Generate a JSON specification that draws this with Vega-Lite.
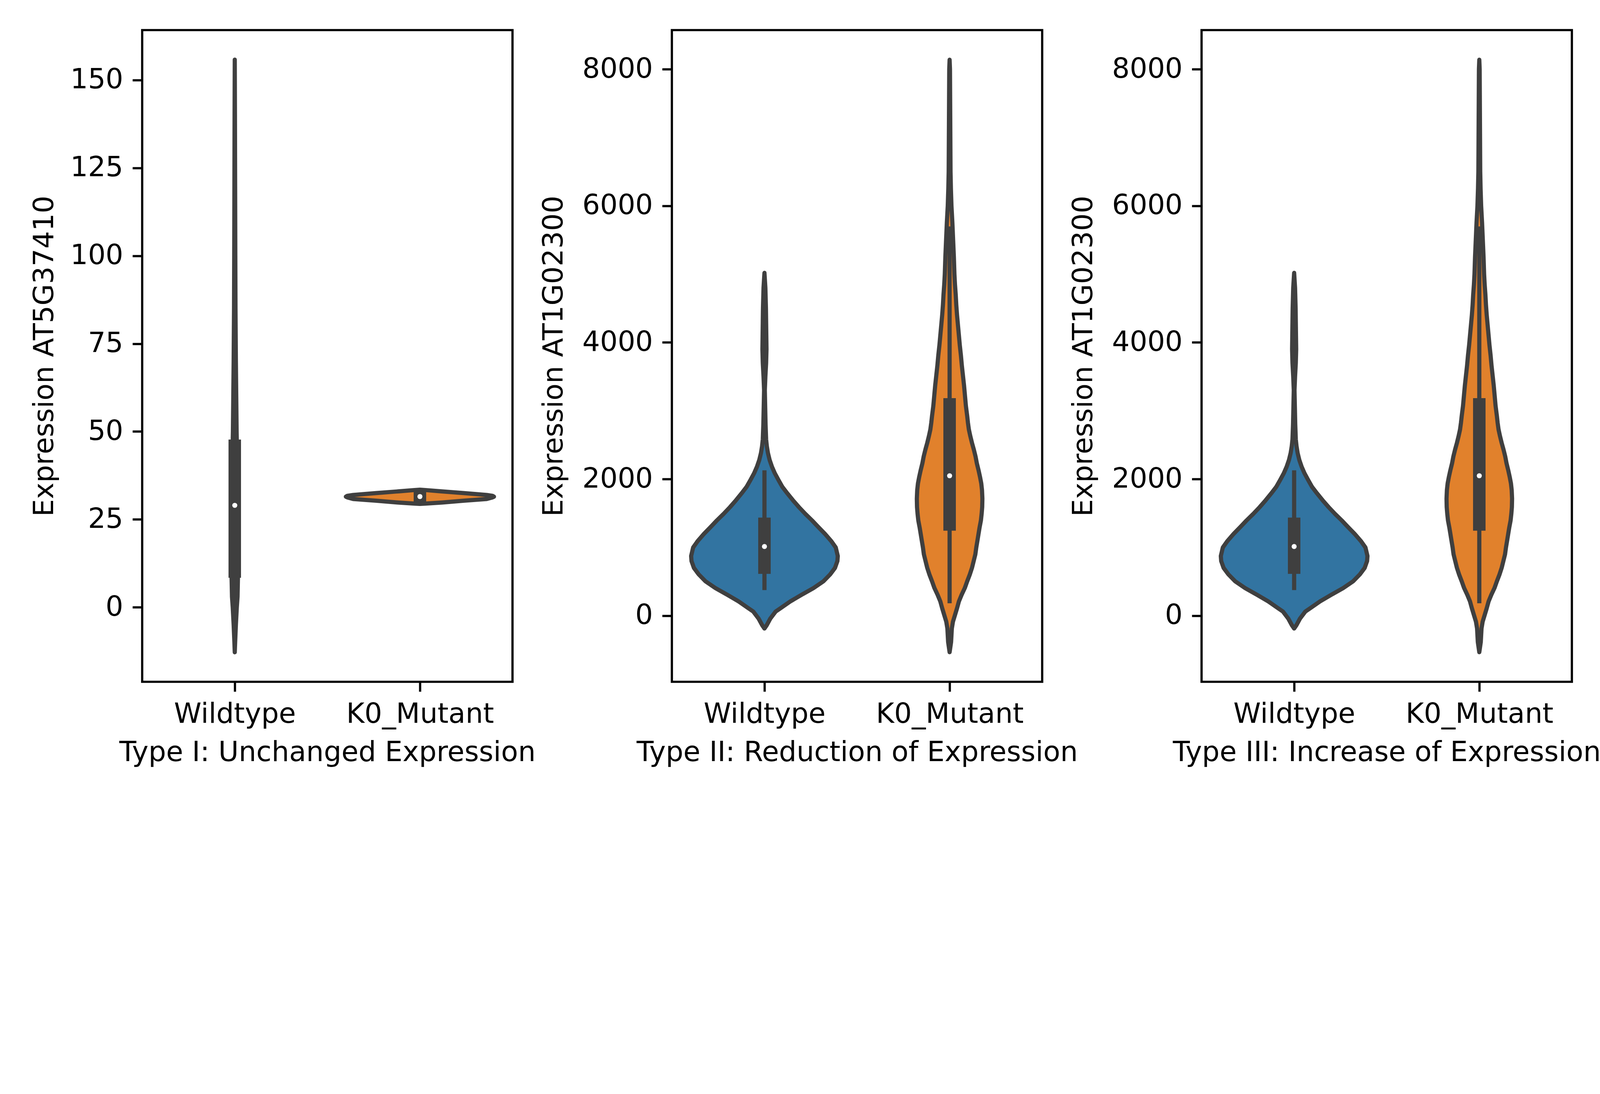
{
  "$schema": "https://vega.github.io/schema/vega-lite/v6.json",
  "description": "Violin plots of expression for three gene types, Wildtype vs K0_Mutant.",
  "background": "white",
  "padding": {"left": 76, "top": 74, "right": 0, "bottom": 0},
  "datasets": {
    "violins": [
      {"gene": "AT5G37410", "group": "Wildtype", "value": -12.8, "density": 0},
      {"gene": "AT5G37410", "group": "Wildtype", "value": -10, "density": 0.002},
      {"gene": "AT5G37410", "group": "Wildtype", "value": -5, "density": 0.006},
      {"gene": "AT5G37410", "group": "Wildtype", "value": 0, "density": 0.011},
      {"gene": "AT5G37410", "group": "Wildtype", "value": 3, "density": 0.015},
      {"gene": "AT5G37410", "group": "Wildtype", "value": 8, "density": 0.017},
      {"gene": "AT5G37410", "group": "Wildtype", "value": 15, "density": 0.019},
      {"gene": "AT5G37410", "group": "Wildtype", "value": 25, "density": 0.019},
      {"gene": "AT5G37410", "group": "Wildtype", "value": 35, "density": 0.016},
      {"gene": "AT5G37410", "group": "Wildtype", "value": 45, "density": 0.012},
      {"gene": "AT5G37410", "group": "Wildtype", "value": 50, "density": 0.010},
      {"gene": "AT5G37410", "group": "Wildtype", "value": 60, "density": 0.008},
      {"gene": "AT5G37410", "group": "Wildtype", "value": 70, "density": 0.006},
      {"gene": "AT5G37410", "group": "Wildtype", "value": 85, "density": 0.004},
      {"gene": "AT5G37410", "group": "Wildtype", "value": 100, "density": 0.003},
      {"gene": "AT5G37410", "group": "Wildtype", "value": 120, "density": 0.002},
      {"gene": "AT5G37410", "group": "Wildtype", "value": 140, "density": 0.001},
      {"gene": "AT5G37410", "group": "Wildtype", "value": 155.8, "density": 0},
      {"gene": "AT5G37410", "group": "K0_Mutant", "value": 29.4, "density": 0},
      {"gene": "AT5G37410", "group": "K0_Mutant", "value": 29.5, "density": 0.03},
      {"gene": "AT5G37410", "group": "K0_Mutant", "value": 29.8, "density": 0.12},
      {"gene": "AT5G37410", "group": "K0_Mutant", "value": 30.3, "density": 0.233},
      {"gene": "AT5G37410", "group": "K0_Mutant", "value": 30.8, "density": 0.361},
      {"gene": "AT5G37410", "group": "K0_Mutant", "value": 31.25, "density": 0.392},
      {"gene": "AT5G37410", "group": "K0_Mutant", "value": 31.47, "density": 0.4},
      {"gene": "AT5G37410", "group": "K0_Mutant", "value": 31.7, "density": 0.392},
      {"gene": "AT5G37410", "group": "K0_Mutant", "value": 31.95, "density": 0.361},
      {"gene": "AT5G37410", "group": "K0_Mutant", "value": 32.5, "density": 0.233},
      {"gene": "AT5G37410", "group": "K0_Mutant", "value": 33.0, "density": 0.11},
      {"gene": "AT5G37410", "group": "K0_Mutant", "value": 33.35, "density": 0.03},
      {"gene": "AT5G37410", "group": "K0_Mutant", "value": 33.45, "density": 0},
      {"gene": "AT1G02300", "group": "Wildtype", "value": -187, "density": 0},
      {"gene": "AT1G02300", "group": "Wildtype", "value": -140, "density": 0.012},
      {"gene": "AT1G02300", "group": "Wildtype", "value": -40, "density": 0.032},
      {"gene": "AT1G02300", "group": "Wildtype", "value": 60, "density": 0.06},
      {"gene": "AT1G02300", "group": "Wildtype", "value": 110, "density": 0.087},
      {"gene": "AT1G02300", "group": "Wildtype", "value": 210, "density": 0.14},
      {"gene": "AT1G02300", "group": "Wildtype", "value": 310, "density": 0.203},
      {"gene": "AT1G02300", "group": "Wildtype", "value": 405, "density": 0.265},
      {"gene": "AT1G02300", "group": "Wildtype", "value": 505, "density": 0.319},
      {"gene": "AT1G02300", "group": "Wildtype", "value": 605, "density": 0.355},
      {"gene": "AT1G02300", "group": "Wildtype", "value": 700, "density": 0.381},
      {"gene": "AT1G02300", "group": "Wildtype", "value": 800, "density": 0.394},
      {"gene": "AT1G02300", "group": "Wildtype", "value": 875, "density": 0.396},
      {"gene": "AT1G02300", "group": "Wildtype", "value": 1000, "density": 0.385},
      {"gene": "AT1G02300", "group": "Wildtype", "value": 1095, "density": 0.36},
      {"gene": "AT1G02300", "group": "Wildtype", "value": 1195, "density": 0.328},
      {"gene": "AT1G02300", "group": "Wildtype", "value": 1295, "density": 0.292},
      {"gene": "AT1G02300", "group": "Wildtype", "value": 1395, "density": 0.257},
      {"gene": "AT1G02300", "group": "Wildtype", "value": 1490, "density": 0.221},
      {"gene": "AT1G02300", "group": "Wildtype", "value": 1590, "density": 0.186},
      {"gene": "AT1G02300", "group": "Wildtype", "value": 1690, "density": 0.154},
      {"gene": "AT1G02300", "group": "Wildtype", "value": 1790, "density": 0.124},
      {"gene": "AT1G02300", "group": "Wildtype", "value": 1885, "density": 0.097},
      {"gene": "AT1G02300", "group": "Wildtype", "value": 1985, "density": 0.076},
      {"gene": "AT1G02300", "group": "Wildtype", "value": 2085, "density": 0.056},
      {"gene": "AT1G02300", "group": "Wildtype", "value": 2185, "density": 0.04},
      {"gene": "AT1G02300", "group": "Wildtype", "value": 2280, "density": 0.028},
      {"gene": "AT1G02300", "group": "Wildtype", "value": 2380, "density": 0.019},
      {"gene": "AT1G02300", "group": "Wildtype", "value": 2480, "density": 0.013},
      {"gene": "AT1G02300", "group": "Wildtype", "value": 2580, "density": 0.009},
      {"gene": "AT1G02300", "group": "Wildtype", "value": 2800, "density": 0.006},
      {"gene": "AT1G02300", "group": "Wildtype", "value": 3050, "density": 0.004},
      {"gene": "AT1G02300", "group": "Wildtype", "value": 3300, "density": 0.002},
      {"gene": "AT1G02300", "group": "Wildtype", "value": 3500, "density": 0.005},
      {"gene": "AT1G02300", "group": "Wildtype", "value": 3700, "density": 0.009},
      {"gene": "AT1G02300", "group": "Wildtype", "value": 3900, "density": 0.011},
      {"gene": "AT1G02300", "group": "Wildtype", "value": 4100, "density": 0.01},
      {"gene": "AT1G02300", "group": "Wildtype", "value": 4300, "density": 0.009},
      {"gene": "AT1G02300", "group": "Wildtype", "value": 4500, "density": 0.008},
      {"gene": "AT1G02300", "group": "Wildtype", "value": 4800, "density": 0.005},
      {"gene": "AT1G02300", "group": "Wildtype", "value": 5018, "density": 0},
      {"gene": "AT1G02300", "group": "K0_Mutant", "value": -533, "density": 0},
      {"gene": "AT1G02300", "group": "K0_Mutant", "value": -385, "density": 0.008},
      {"gene": "AT1G02300", "group": "K0_Mutant", "value": -187, "density": 0.012},
      {"gene": "AT1G02300", "group": "K0_Mutant", "value": -88, "density": 0.018},
      {"gene": "AT1G02300", "group": "K0_Mutant", "value": 10, "density": 0.029},
      {"gene": "AT1G02300", "group": "K0_Mutant", "value": 109, "density": 0.04},
      {"gene": "AT1G02300", "group": "K0_Mutant", "value": 208, "density": 0.05},
      {"gene": "AT1G02300", "group": "K0_Mutant", "value": 307, "density": 0.065},
      {"gene": "AT1G02300", "group": "K0_Mutant", "value": 405, "density": 0.082},
      {"gene": "AT1G02300", "group": "K0_Mutant", "value": 504, "density": 0.095},
      {"gene": "AT1G02300", "group": "K0_Mutant", "value": 603, "density": 0.109},
      {"gene": "AT1G02300", "group": "K0_Mutant", "value": 702, "density": 0.121},
      {"gene": "AT1G02300", "group": "K0_Mutant", "value": 800, "density": 0.13},
      {"gene": "AT1G02300", "group": "K0_Mutant", "value": 899, "density": 0.139},
      {"gene": "AT1G02300", "group": "K0_Mutant", "value": 998, "density": 0.144},
      {"gene": "AT1G02300", "group": "K0_Mutant", "value": 1096, "density": 0.15},
      {"gene": "AT1G02300", "group": "K0_Mutant", "value": 1195, "density": 0.156},
      {"gene": "AT1G02300", "group": "K0_Mutant", "value": 1294, "density": 0.162},
      {"gene": "AT1G02300", "group": "K0_Mutant", "value": 1393, "density": 0.169},
      {"gene": "AT1G02300", "group": "K0_Mutant", "value": 1491, "density": 0.173},
      {"gene": "AT1G02300", "group": "K0_Mutant", "value": 1590, "density": 0.176},
      {"gene": "AT1G02300", "group": "K0_Mutant", "value": 1714, "density": 0.177},
      {"gene": "AT1G02300", "group": "K0_Mutant", "value": 1837, "density": 0.175},
      {"gene": "AT1G02300", "group": "K0_Mutant", "value": 1936, "density": 0.171},
      {"gene": "AT1G02300", "group": "K0_Mutant", "value": 2035, "density": 0.164},
      {"gene": "AT1G02300", "group": "K0_Mutant", "value": 2133, "density": 0.156},
      {"gene": "AT1G02300", "group": "K0_Mutant", "value": 2232, "density": 0.147},
      {"gene": "AT1G02300", "group": "K0_Mutant", "value": 2331, "density": 0.14},
      {"gene": "AT1G02300", "group": "K0_Mutant", "value": 2430, "density": 0.131},
      {"gene": "AT1G02300", "group": "K0_Mutant", "value": 2528, "density": 0.121},
      {"gene": "AT1G02300", "group": "K0_Mutant", "value": 2627, "density": 0.112},
      {"gene": "AT1G02300", "group": "K0_Mutant", "value": 2726, "density": 0.104},
      {"gene": "AT1G02300", "group": "K0_Mutant", "value": 2825, "density": 0.099},
      {"gene": "AT1G02300", "group": "K0_Mutant", "value": 2923, "density": 0.095},
      {"gene": "AT1G02300", "group": "K0_Mutant", "value": 3071, "density": 0.088},
      {"gene": "AT1G02300", "group": "K0_Mutant", "value": 3219, "density": 0.083},
      {"gene": "AT1G02300", "group": "K0_Mutant", "value": 3368, "density": 0.078},
      {"gene": "AT1G02300", "group": "K0_Mutant", "value": 3516, "density": 0.072},
      {"gene": "AT1G02300", "group": "K0_Mutant", "value": 3664, "density": 0.066},
      {"gene": "AT1G02300", "group": "K0_Mutant", "value": 3812, "density": 0.061},
      {"gene": "AT1G02300", "group": "K0_Mutant", "value": 3960, "density": 0.055},
      {"gene": "AT1G02300", "group": "K0_Mutant", "value": 4108, "density": 0.05},
      {"gene": "AT1G02300", "group": "K0_Mutant", "value": 4256, "density": 0.045},
      {"gene": "AT1G02300", "group": "K0_Mutant", "value": 4404, "density": 0.04},
      {"gene": "AT1G02300", "group": "K0_Mutant", "value": 4552, "density": 0.036},
      {"gene": "AT1G02300", "group": "K0_Mutant", "value": 4700, "density": 0.033},
      {"gene": "AT1G02300", "group": "K0_Mutant", "value": 4849, "density": 0.029},
      {"gene": "AT1G02300", "group": "K0_Mutant", "value": 5000, "density": 0.026},
      {"gene": "AT1G02300", "group": "K0_Mutant", "value": 5250, "density": 0.023},
      {"gene": "AT1G02300", "group": "K0_Mutant", "value": 5500, "density": 0.019},
      {"gene": "AT1G02300", "group": "K0_Mutant", "value": 5750, "density": 0.015},
      {"gene": "AT1G02300", "group": "K0_Mutant", "value": 6000, "density": 0.01},
      {"gene": "AT1G02300", "group": "K0_Mutant", "value": 6250, "density": 0.007},
      {"gene": "AT1G02300", "group": "K0_Mutant", "value": 6500, "density": 0.005},
      {"gene": "AT1G02300", "group": "K0_Mutant", "value": 7000, "density": 0.004},
      {"gene": "AT1G02300", "group": "K0_Mutant", "value": 7500, "density": 0.003},
      {"gene": "AT1G02300", "group": "K0_Mutant", "value": 8000, "density": 0.002},
      {"gene": "AT1G02300", "group": "K0_Mutant", "value": 8138, "density": 0}
    ],
    "stats": [
      {"gene": "AT5G37410", "group": "Wildtype", "whisk_lo": 0, "q1": 8.4, "median": 29.0, "q3": 47.7, "whisk_hi": 105},
      {"gene": "AT5G37410", "group": "K0_Mutant", "whisk_lo": 29.0, "q1": 29.1, "median": 31.5, "q3": 33.7, "whisk_hi": 33.8},
      {"gene": "AT1G02300", "group": "Wildtype", "whisk_lo": 376, "q1": 613, "median": 1013, "q3": 1437, "whisk_hi": 2128},
      {"gene": "AT1G02300", "group": "K0_Mutant", "whisk_lo": 183, "q1": 1245, "median": 2049, "q3": 3185, "whisk_hi": 5699}
    ]
  },
  "bounds": "flush",
  "spacing": 408,
  "hconcat": [
    {
      "width": 948,
      "height": 1668,
      "resolve": {"scale": {"x": "independent"}},
      "layer": [
        {
          "data": {"name": "violins"},
          "transform": [{"filter": "datum.gene === 'AT5G37410' && datum.group === 'Wildtype'"}],
          "mark": {"type": "area", "orient": "horizontal", "fill": "#3274a1", "stroke": "#3f3f3f", "strokeWidth": 10.7, "strokeJoin": "round", "opacity": 1},
          "encoding": {
            "y": {"field": "value", "type": "quantitative", "scale": {"domain": [-21.2, 164.2], "nice": false, "zero": false},
                  "axis": {"values": [0, 25, 50, 75, 100, 125, 150], "format": "d", "title": "Expression AT5G37410"}},
            "x": {"field": "density", "type": "quantitative", "stack": "center", "scale": {"domain": [-0.2405, 0.7595]}, "axis": null}
          }
        },
        {
          "data": {"name": "violins"},
          "transform": [{"filter": "datum.gene === 'AT5G37410' && datum.group === 'K0_Mutant'"}],
          "mark": {"type": "area", "orient": "horizontal", "fill": "#e1812c", "stroke": "#3f3f3f", "strokeWidth": 10.7, "strokeJoin": "round", "opacity": 1},
          "encoding": {
            "y": {"field": "value", "type": "quantitative", "scale": {"domain": [-21.2, 164.2], "nice": false, "zero": false},
                  "axis": {"values": [0, 25, 50, 75, 100, 125, 150], "format": "d", "title": "Expression AT5G37410"}},
            "x": {"field": "density", "type": "quantitative", "stack": "center", "scale": {"domain": [-0.55, 0.45]}, "axis": null}
          }
        },
        {
          "data": {"name": "stats"},
          "transform": [{"filter": "datum.gene === 'AT5G37410'"}],
          "encoding": {
            "x": {"field": "group", "type": "nominal", "scale": {"type": "point", "domain": ["Wildtype", "K0_Mutant"], "padding": 0.5},
                  "axis": {"title": "Type I: Unchanged Expression", "labelAngle": 0}}
          },
          "layer": [
            {
              "mark": {"type": "rule", "color": "#3f3f3f", "strokeWidth": 10.7},
              "encoding": {
                "y": {"field": "whisk_lo", "type": "quantitative", "scale": {"domain": [-21.2, 164.2], "nice": false, "zero": false},
                      "axis": {"values": [0, 25, 50, 75, 100, 125, 150], "format": "d", "title": "Expression AT5G37410"}},
                "y2": {"field": "whisk_hi"}
              }
            },
            {
              "mark": {"type": "rule", "color": "#3f3f3f", "strokeWidth": 32},
              "encoding": {
                "y": {"field": "q1", "type": "quantitative", "scale": {"domain": [-21.2, 164.2], "nice": false, "zero": false},
                      "axis": {"values": [0, 25, 50, 75, 100, 125, 150], "format": "d", "title": "Expression AT5G37410"}},
                "y2": {"field": "q3"}
              }
            },
            {
              "mark": {"type": "circle", "color": "white", "opacity": 1, "size": 167},
              "encoding": {
                "y": {"field": "median", "type": "quantitative", "scale": {"domain": [-21.2, 164.2], "nice": false, "zero": false},
                      "axis": {"values": [0, 25, 50, 75, 100, 125, 150], "format": "d", "title": "Expression AT5G37410"}}
              }
            }
          ]
        }
      ]
    },
    {
      "width": 948,
      "height": 1668,
      "resolve": {"scale": {"x": "independent"}},
      "layer": [
        {
          "data": {"name": "violins"},
          "transform": [{"filter": "datum.gene === 'AT1G02300' && datum.group === 'Wildtype'"}],
          "mark": {"type": "area", "orient": "horizontal", "fill": "#3274a1", "stroke": "#3f3f3f", "strokeWidth": 10.7, "strokeJoin": "round", "opacity": 1},
          "encoding": {
            "y": {"field": "value", "type": "quantitative", "scale": {"domain": [-967, 8572], "nice": false, "zero": false},
                  "axis": {"values": [0, 2000, 4000, 6000, 8000], "format": "d", "title": "Expression AT1G02300", "titlePadding": 66}},
            "x": {"field": "density", "type": "quantitative", "stack": "center", "scale": {"domain": [-0.052, 0.948]}, "axis": null}
          }
        },
        {
          "data": {"name": "violins"},
          "transform": [{"filter": "datum.gene === 'AT1G02300' && datum.group === 'K0_Mutant'"}],
          "mark": {"type": "area", "orient": "horizontal", "fill": "#e1812c", "stroke": "#3f3f3f", "strokeWidth": 10.7, "strokeJoin": "round", "opacity": 1},
          "encoding": {
            "y": {"field": "value", "type": "quantitative", "scale": {"domain": [-967, 8572], "nice": false, "zero": false},
                  "axis": {"values": [0, 2000, 4000, 6000, 8000], "format": "d", "title": "Expression AT1G02300", "titlePadding": 66}},
            "x": {"field": "density", "type": "quantitative", "stack": "center", "scale": {"domain": [-0.6615, 0.3385]}, "axis": null}
          }
        },
        {
          "data": {"name": "stats"},
          "transform": [{"filter": "datum.gene === 'AT1G02300'"}],
          "encoding": {
            "x": {"field": "group", "type": "nominal", "scale": {"type": "point", "domain": ["Wildtype", "K0_Mutant"], "padding": 0.5},
                  "axis": {"title": "Type II: Reduction of Expression", "labelAngle": 0}}
          },
          "layer": [
            {
              "mark": {"type": "rule", "color": "#3f3f3f", "strokeWidth": 10.7},
              "encoding": {
                "y": {"field": "whisk_lo", "type": "quantitative", "scale": {"domain": [-967, 8572], "nice": false, "zero": false},
                      "axis": {"values": [0, 2000, 4000, 6000, 8000], "format": "d", "title": "Expression AT1G02300", "titlePadding": 66}},
                "y2": {"field": "whisk_hi"}
              }
            },
            {
              "mark": {"type": "rule", "color": "#3f3f3f", "strokeWidth": 32},
              "encoding": {
                "y": {"field": "q1", "type": "quantitative", "scale": {"domain": [-967, 8572], "nice": false, "zero": false},
                      "axis": {"values": [0, 2000, 4000, 6000, 8000], "format": "d", "title": "Expression AT1G02300", "titlePadding": 66}},
                "y2": {"field": "q3"}
              }
            },
            {
              "mark": {"type": "circle", "color": "white", "opacity": 1, "size": 167},
              "encoding": {
                "y": {"field": "median", "type": "quantitative", "scale": {"domain": [-967, 8572], "nice": false, "zero": false},
                      "axis": {"values": [0, 2000, 4000, 6000, 8000], "format": "d", "title": "Expression AT1G02300", "titlePadding": 66}}
              }
            }
          ]
        }
      ]
    },
    {
      "width": 948,
      "height": 1668,
      "resolve": {"scale": {"x": "independent"}},
      "layer": [
        {
          "data": {"name": "violins"},
          "transform": [{"filter": "datum.gene === 'AT1G02300' && datum.group === 'Wildtype'"}],
          "mark": {"type": "area", "orient": "horizontal", "fill": "#3274a1", "stroke": "#3f3f3f", "strokeWidth": 10.7, "strokeJoin": "round", "opacity": 1},
          "encoding": {
            "y": {"field": "value", "type": "quantitative", "scale": {"domain": [-967, 8572], "nice": false, "zero": false},
                  "axis": {"values": [0, 2000, 4000, 6000, 8000], "format": "d", "title": "Expression AT1G02300", "titlePadding": 66}},
            "x": {"field": "density", "type": "quantitative", "stack": "center", "scale": {"domain": [-0.052, 0.948]}, "axis": null}
          }
        },
        {
          "data": {"name": "violins"},
          "transform": [{"filter": "datum.gene === 'AT1G02300' && datum.group === 'K0_Mutant'"}],
          "mark": {"type": "area", "orient": "horizontal", "fill": "#e1812c", "stroke": "#3f3f3f", "strokeWidth": 10.7, "strokeJoin": "round", "opacity": 1},
          "encoding": {
            "y": {"field": "value", "type": "quantitative", "scale": {"domain": [-967, 8572], "nice": false, "zero": false},
                  "axis": {"values": [0, 2000, 4000, 6000, 8000], "format": "d", "title": "Expression AT1G02300", "titlePadding": 66}},
            "x": {"field": "density", "type": "quantitative", "stack": "center", "scale": {"domain": [-0.6615, 0.3385]}, "axis": null}
          }
        },
        {
          "data": {"name": "stats"},
          "transform": [{"filter": "datum.gene === 'AT1G02300'"}],
          "encoding": {
            "x": {"field": "group", "type": "nominal", "scale": {"type": "point", "domain": ["Wildtype", "K0_Mutant"], "padding": 0.5},
                  "axis": {"title": "Type III: Increase of Expression", "labelAngle": 0}}
          },
          "layer": [
            {
              "mark": {"type": "rule", "color": "#3f3f3f", "strokeWidth": 10.7},
              "encoding": {
                "y": {"field": "whisk_lo", "type": "quantitative", "scale": {"domain": [-967, 8572], "nice": false, "zero": false},
                      "axis": {"values": [0, 2000, 4000, 6000, 8000], "format": "d", "title": "Expression AT1G02300", "titlePadding": 66}},
                "y2": {"field": "whisk_hi"}
              }
            },
            {
              "mark": {"type": "rule", "color": "#3f3f3f", "strokeWidth": 32},
              "encoding": {
                "y": {"field": "q1", "type": "quantitative", "scale": {"domain": [-967, 8572], "nice": false, "zero": false},
                      "axis": {"values": [0, 2000, 4000, 6000, 8000], "format": "d", "title": "Expression AT1G02300", "titlePadding": 66}},
                "y2": {"field": "q3"}
              }
            },
            {
              "mark": {"type": "circle", "color": "white", "opacity": 1, "size": 167},
              "encoding": {
                "y": {"field": "median", "type": "quantitative", "scale": {"domain": [-967, 8572], "nice": false, "zero": false},
                      "axis": {"values": [0, 2000, 4000, 6000, 8000], "format": "d", "title": "Expression AT1G02300", "titlePadding": 66}}
              }
            }
          ]
        }
      ]
    }
  ],
  "config": {
    "font": "DejaVu Sans",
    "view": {"stroke": "black", "strokeWidth": 5.7},
    "axis": {
      "grid": false,
      "domain": false,
      "labelFont": "DejaVu Sans",
      "titleFont": "DejaVu Sans",
      "labelFontSize": 71.1,
      "titleFontSize": 71.1,
      "titleFontWeight": "normal",
      "labelColor": "black",
      "titleColor": "black",
      "tickColor": "black",
      "tickSize": 24.9,
      "tickWidth": 5.7,
      "labelPadding": 24,
      "labelLimit": 2000
    },
    "axisX": {"titlePadding": 27},
    "axisY": {"titlePadding": 28.5}
  }
}
